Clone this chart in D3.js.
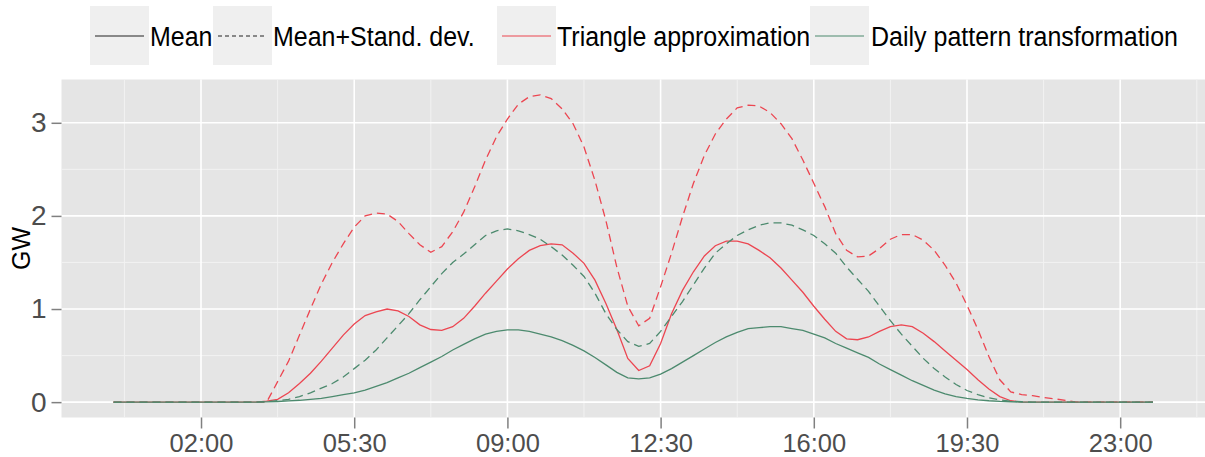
<!DOCTYPE html>
<html>
<head>
<meta charset="utf-8">
<script src="https://cdn.jsdelivr.net/npm/d3@7"></script>
<style>
  html, body { margin: 0; padding: 0; background: #ffffff; }
  svg { display: block; font-family: "Liberation Sans", Arial, Helvetica, sans-serif; }
</style>
</head>
<body>
<svg id="chart" width="1205" height="457"></svg>
<script>
// Quarter-hour slots 00:00 .. 23:45 (96 values each)
const hours = d3.range(96).map(i => i / 4);

const triMean = [
  0,0,0,0,0,0,0,0,0,0,0,0,0,0,
  0.01,0.03,0.10,0.20,0.31,0.44,0.58,0.72,0.84,0.93,0.97,1.00,0.98,0.92,0.83,0.78,0.77,0.81,
  0.90,1.03,1.17,1.30,1.43,1.54,1.63,1.68,1.70,1.69,1.60,1.49,1.31,1.06,0.78,0.47,0.34,0.39,
  0.63,0.95,1.20,1.40,1.57,1.68,1.73,1.73,1.70,1.63,1.55,1.44,1.31,1.18,1.03,0.89,0.76,0.68,
  0.67,0.70,0.76,0.81,0.83,0.81,0.74,0.65,0.55,0.45,0.35,0.24,0.14,0.06,0.015,
  0,0,0,0,0,0,0,0,0,0,0,0,0
];
const triMeanSd = [
  0,0,0,0,0,0,0,0,0,0,0,0,0,0,
  0,0.22,0.44,0.72,1.00,1.27,1.50,1.70,1.88,2.00,2.03,2.02,1.94,1.81,1.69,1.61,1.67,1.83,
  2.04,2.31,2.60,2.85,3.04,3.20,3.28,3.30,3.26,3.15,2.99,2.74,2.38,1.95,1.45,1.03,0.82,0.90,
  1.24,1.60,1.99,2.35,2.65,2.88,3.04,3.16,3.19,3.18,3.11,2.99,2.83,2.60,2.35,2.10,1.81,1.63,
  1.56,1.57,1.65,1.75,1.80,1.80,1.74,1.63,1.47,1.28,1.04,0.78,0.49,0.24,0.11,0.08,0.07,0.05,
  0.035,0.02,0,0,0,0,0,0,0,0
];
const dayMean = [
  0,0,0,0,0,0,0,0,0,0,0,0,0,0,
  0.003,0.007,0.014,0.02,0.03,0.04,0.06,0.08,0.10,0.13,0.17,0.21,0.26,0.31,0.37,0.43,0.49,0.56,
  0.62,0.68,0.73,0.76,0.775,0.775,0.76,0.73,0.70,0.66,0.61,0.55,0.48,0.40,0.32,0.26,0.25,0.26,
  0.30,0.36,0.43,0.50,0.57,0.64,0.70,0.75,0.79,0.80,0.81,0.81,0.79,0.77,0.73,0.69,0.63,0.58,
  0.53,0.48,0.41,0.35,0.29,0.23,0.18,0.13,0.09,0.06,0.04,0.025,0.015,0.008,0.004,
  0,0,0,0,0,0,0,0,0,0,0,0,0
];
const dayMeanSd = [
  0,0,0,0,0,0,0,0,0,0,0,0,0,0,
  0.005,0.015,0.03,0.06,0.10,0.15,0.20,0.27,0.36,0.45,0.56,0.69,0.82,0.95,1.10,1.24,1.38,1.50,
  1.59,1.69,1.79,1.84,1.86,1.84,1.80,1.75,1.67,1.58,1.47,1.35,1.17,0.95,0.78,0.65,0.60,0.63,
  0.76,0.92,1.08,1.26,1.44,1.60,1.70,1.79,1.85,1.90,1.925,1.925,1.90,1.85,1.79,1.70,1.60,1.45,
  1.32,1.19,1.03,0.875,0.73,0.60,0.47,0.36,0.27,0.19,0.125,0.08,0.046,0.025,0.01,0.004,
  0,0,0,0,0,0,0,0,0,0,0,0
];

const xTickValues = [2, 5.5, 9, 12.5, 16, 19.5, 23];
const xTickLabels = ["02:00", "05:30", "09:00", "12:30", "16:00", "19:30", "23:00"];
const xMinorValues = [0.25, 3.75, 7.25, 10.75, 14.25, 17.75, 21.25, 24.75];
const yTickValues = [0, 1, 2, 3];
const yMinorValues = [0.5, 1.5, 2.5];

const legendLabels = ["Mean", "Mean+Stand. dev.", "Triangle approximation", "Daily pattern transformation"];

const RED = "#EC4651";
const GREEN = "#4C8A6E";

const series = [
  { values: triMeanSd, color: RED, dash: "8,5" },
  { values: triMean, color: RED, dash: null },
  { values: dayMeanSd, color: GREEN, dash: "8,5" },
  { values: dayMean, color: GREEN, dash: null }
];

const svg = d3.select("#chart");
const panel = { left: 61.5, right: 1205, top: 79.5, bottom: 417.5 };

const x = d3.scaleLinear().domain([-1.1875, 24.9375]).range([panel.left, panel.right]);
const y = d3.scaleLinear().domain([-0.165, 3.465]).range([panel.bottom, panel.top]);

// panel background
svg.append("rect")
  .attr("x", panel.left).attr("y", panel.top)
  .attr("width", panel.right - panel.left).attr("height", panel.bottom - panel.top)
  .attr("fill", "#E5E5E5");

// minor grid
svg.append("g").selectAll("line").data(xMinorValues).join("line")
  .attr("x1", d => x(d)).attr("x2", d => x(d))
  .attr("y1", panel.top).attr("y2", panel.bottom)
  .attr("stroke", "#F2F2F2").attr("stroke-width", 1);
svg.append("g").selectAll("line").data(yMinorValues).join("line")
  .attr("y1", d => y(d)).attr("y2", d => y(d))
  .attr("x1", panel.left).attr("x2", panel.right)
  .attr("stroke", "#F2F2F2").attr("stroke-width", 1);
// major grid
svg.append("g").selectAll("line").data(xTickValues).join("line")
  .attr("x1", d => x(d)).attr("x2", d => x(d))
  .attr("y1", panel.top).attr("y2", panel.bottom)
  .attr("stroke", "#FFFFFF").attr("stroke-width", 1.6);
svg.append("g").selectAll("line").data(yTickValues).join("line")
  .attr("y1", d => y(d)).attr("y2", d => y(d))
  .attr("x1", panel.left).attr("x2", panel.right)
  .attr("stroke", "#FFFFFF").attr("stroke-width", 1.6);

// lines
const line = d3.line().x((d, i) => x(hours[i])).y(d => y(d));
svg.append("g").selectAll("path").data(series).join("path")
  .attr("d", d => line(d.values))
  .attr("fill", "none")
  .attr("stroke", d => d.color)
  .attr("stroke-width", 1.3)
  .attr("stroke-dasharray", d => d.dash);

// axes
const xAxis = d3.axisBottom(x).tickValues(xTickValues)
  .tickFormat((d, i) => xTickLabels[i]).tickSize(11).tickPadding(5);
const gx = svg.append("g").attr("transform", `translate(0,${panel.bottom})`).call(xAxis);
gx.select(".domain").remove();
gx.selectAll(".tick line").attr("stroke", "#808080").attr("stroke-width", 1.5);
gx.selectAll(".tick text").attr("fill", "#4D4D4D").attr("font-size", 25.5)
  .attr("font-family", "Liberation Sans, Arial, sans-serif");

const yAxis = d3.axisLeft(y).tickValues(yTickValues).tickFormat(d3.format("d"))
  .tickSize(10).tickPadding(5);
const gy = svg.append("g").attr("transform", `translate(${panel.left},0)`).call(yAxis);
gy.select(".domain").remove();
gy.selectAll(".tick line").attr("stroke", "#808080").attr("stroke-width", 1.5);
gy.selectAll(".tick text").attr("fill", "#4D4D4D").attr("font-size", 28)
  .attr("font-family", "Liberation Sans, Arial, sans-serif");

// y label
svg.append("text")
  .attr("transform", `translate(30,${(panel.top + panel.bottom) / 2}) rotate(-90)`)
  .attr("text-anchor", "middle")
  .attr("font-size", 25)
  .attr("fill", "#000")
  .text("GW");

// legend
const legendItems = [
  { label: legendLabels[0], color: "#222", dash: null, kx: 90, tx: 150 },
  { label: legendLabels[1], color: "#222", dash: "4,3", kx: 213, tx: 273 },
  { label: legendLabels[2], color: RED, dash: null, kx: 497, tx: 557 },
  { label: legendLabels[3], color: GREEN, dash: null, kx: 810, tx: 871 }
];
const lg = svg.append("g");
const items = lg.selectAll("g").data(legendItems).join("g");
items.append("rect")
  .attr("x", d => d.kx).attr("y", 6).attr("width", 59).attr("height", 59)
  .attr("fill", "#EFEFEF");
items.append("line")
  .attr("x1", d => d.kx + 5).attr("x2", d => d.kx + 54)
  .attr("y1", 36).attr("y2", 36)
  .attr("stroke", d => d.color).attr("stroke-width", 1.2)
  .attr("stroke-dasharray", d => d.dash);
items.append("text")
  .attr("transform", d => `translate(${d.tx},46) scale(1,1.12)`)
  .attr("font-size", 25).attr("fill", "#000")
  .text(d => d.label);
</script>
</body>
</html>
